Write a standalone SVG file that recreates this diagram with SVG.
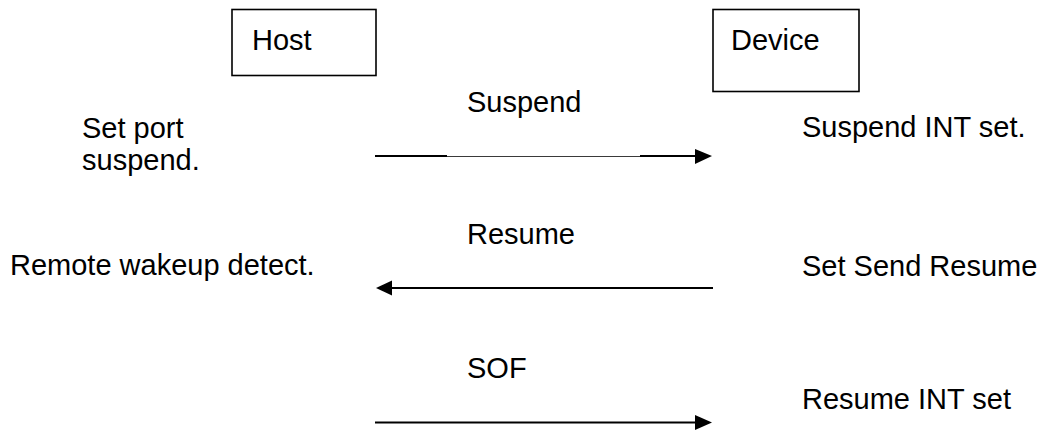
<svg xmlns="http://www.w3.org/2000/svg" width="1051" height="430" viewBox="0 0 1051 430">
  <style>
    .box { fill: #ffffff; stroke: #000000; stroke-width: 1.6; }
    .t { font-family: "Liberation Sans", Arial, sans-serif; font-size: 29px; fill: #000000; }
    .ln { stroke: #000000; stroke-width: 2.2; fill: none; }
    .thin { stroke: #3a3a3a; stroke-width: 1.2; fill: none; }
    .head { fill: #000000; }
  </style>
  <rect width="1051" height="430" fill="#ffffff"/>

  <g id="host">
    <rect class="box" x="232" y="9.5" width="144" height="66"/>
    <text class="t" x="252" y="50">Host</text>
  </g>

  <g id="device">
    <rect class="box" x="713" y="9.5" width="146" height="82"/>
    <text class="t" x="731" y="50">Device</text>
  </g>

  <g id="host-notes">
    <text class="t" x="82" y="138">Set port</text>
    <text class="t" x="82" y="170">suspend.</text>
    <text class="t" x="10" y="275">Remote wakeup detect.</text>
  </g>

  <g id="device-notes">
    <text class="t" x="802" y="137">Suspend INT set.</text>
    <text class="t" x="802" y="276">Set Send Resume</text>
    <text class="t" x="802" y="409">Resume INT set</text>
  </g>

  <g id="connectors">
    <!-- Suspend -->
    <line class="ln" x1="375" y1="156" x2="447" y2="156"/>
    <line class="thin" x1="447" y1="156.5" x2="640" y2="156.5"/>
    <line class="ln" x1="640" y1="156" x2="697" y2="156"/>
    <polygon class="head" points="695,149 712,156 695,164"/>
    <text class="t" x="467" y="112">Suspend</text>

    <!-- Resume -->
    <line class="ln" x1="390" y1="288" x2="713" y2="288"/>
    <polygon class="head" points="392,280.5 376,288 392,295.5"/>
    <text class="t" x="467" y="244">Resume</text>

    <!-- SOF -->
    <line class="ln" x1="375" y1="422.5" x2="697" y2="422.5"/>
    <polygon class="head" points="695,415 712,422.5 695,430"/>
    <text class="t" x="467" y="378">SOF</text>
  </g>
</svg>
